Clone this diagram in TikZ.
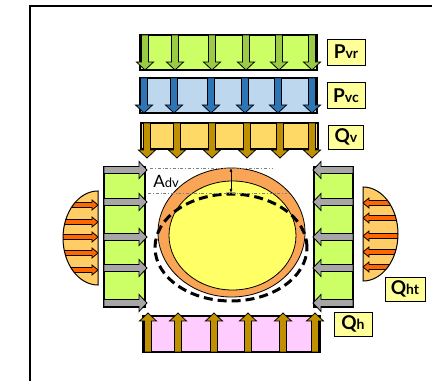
\documentclass[tikz,border=0pt]{standalone}
\usepackage{fontspec}
\setmainfont{Lato}
\usepackage{tikz}
\usetikzlibrary{arrows.meta}
\definecolor{BandGreen}{HTML}{CCFF66}
\definecolor{ArrowGreen}{HTML}{99CC44}
\definecolor{BandBlue}{HTML}{BDD7EE}
\definecolor{ArrowBlue}{HTML}{2E75B6}
\definecolor{BandGold}{HTML}{FFD966}
\definecolor{ArrowGold}{HTML}{BF9000}
\definecolor{BandPink}{HTML}{FFCCFF}
\definecolor{ArrowGray}{HTML}{A6A6A6}
\definecolor{LoadOrange}{HTML}{FFCC66}
\definecolor{ArrowOrange}{HTML}{FF6600}
\definecolor{RingOrange}{HTML}{FAA555}
\definecolor{CoreYellow}{HTML}{FFFF66}
\definecolor{LabelYellow}{HTML}{FFFF99}

\begin{document}
\begin{tikzpicture}[
    x=1pt, y=1pt,
    band/.style={draw=black, line width=1.2pt},
    lbl/.style={draw=black, fill=LabelYellow, line width=0.9pt, inner sep=0pt, minimum width=38pt, minimum height=26pt},
    pics/blockarrow/.style={code={
      \path[pic actions] (0,-3.5) -- (#1-8,-3.5) -- (#1-8,-8.5) -- (#1,0) -- (#1-8,8.5) -- (#1-8,3.5) -- (0,3.5) -- cycle;
    }},
    pics/smallarrow/.style={code={
      \path[pic actions] (0,-2.5) -- (#1-6,-2.5) -- (#1-6,-5) -- (#1,0) -- (#1-6,5) -- (#1-6,2.5) -- (0,2.5) -- cycle;
    }},
    barrow/.style={draw=black, line width=0.8pt, fill=#1}
  ]
  \useasboundingbox (0,0) rectangle (432,381);

  % Frame (open to the right and bottom)
  \draw[line width=1.3pt] (432,375) -- (30,375) -- (30,0);

  % Band 1: Pvr
  \filldraw[band, fill=BandGreen] (140,311) rectangle (317,346);
  \foreach \xa in {145,175,212,246,279,312}
    \pic[rotate=-90, barrow=ArrowGreen] at (\xa,346) {blockarrow=35};
  \node[lbl] (pvr) at (346,329) {{\fontsize{19}{19}\selectfont\bfseries P}{\fontsize{14}{14}\selectfont\bfseries vr}};

  % Band 2: Pvc
  \filldraw[band, fill=BandBlue] (140,268) rectangle (317,303);
  \foreach \xa in {144,174,211,245,278,312}
    \pic[rotate=-90, barrow=ArrowBlue] at (\xa,303) {blockarrow=35};
  \node[lbl] (pvc) at (346,285.5) {{\fontsize{19}{19}\selectfont\bfseries P}{\fontsize{14}{14}\selectfont\bfseries vc}};

  % Band 3: Qv
  \filldraw[band, fill=BandGold] (141,232) rectangle (318,258);
  \foreach \xa in {147,177,212,247,280,312}
    \pic[rotate=-90, barrow=ArrowGold] at (\xa,258) {blockarrow=35};
  \node[lbl, minimum width=35pt, minimum height=24pt] (qv) at (346,244) {{\fontsize{19}{19}\selectfont\bfseries Q}{\fontsize{14}{14}\selectfont\bfseries v}};

  % Side bands
  \filldraw[band, fill=BandGreen] (104,74) rectangle (145,214);
  \filldraw[band, fill=BandGreen] (314,74) rectangle (353,214);
  \foreach \ya in {211,179,144,113,78} {
    \pic[barrow=ArrowGray] at (104,\ya) {blockarrow=43};
    \pic[rotate=180, barrow=ArrowGray] at (353,\ya) {blockarrow=40};
  }

  % Left load distribution
  \fill[LoadOrange] (98,190) arc[start angle=90, end angle=270, x radius=35, y radius=47] -- cycle;
  \begin{scope}
    \clip (98,190) arc[start angle=90, end angle=270, x radius=35, y radius=47] -- cycle;
    \foreach \ya in {176,159,144,128,111}
      \pic[barrow=ArrowOrange] at (50,\ya) {smallarrow=48};
  \end{scope}
  \draw[line width=1pt] (98,190) arc[start angle=90, end angle=270, x radius=35, y radius=47] -- cycle;

  % Right load distribution
  \fill[LoadOrange] (363,194) arc[start angle=90, end angle=-90, x radius=35, y radius=47] -- cycle;
  \begin{scope}
    \clip (363,194) arc[start angle=90, end angle=-90, x radius=35, y radius=47] -- cycle;
    \foreach \ya in {178,163,145,129,114}
      \pic[rotate=180, barrow=ArrowOrange] at (411,\ya) {smallarrow=48};
  \end{scope}
  \draw[line width=1pt] (363,194) arc[start angle=90, end angle=-90, x radius=35, y radius=47] -- cycle;
  \node[lbl, minimum width=40pt, minimum height=24pt] (qht) at (405,92) {{\fontsize{19}{19}\selectfont\bfseries Q}{\fontsize{14}{14}\selectfont\bfseries ht}};

  % Bottom band: Qh
  \filldraw[band, fill=BandPink] (143,29) rectangle (320,65);
  \foreach \xa in {148,178,214,248,283,315}
    \pic[rotate=90, barrow=ArrowGold] at (\xa,29) {blockarrow=39};
  \node[lbl, minimum height=24pt] (qh) at (353,57) {{\fontsize{19}{19}\selectfont\bfseries Q}{\fontsize{14}{14}\selectfont\bfseries h}};

  % Lining and deformed shape
  \filldraw[draw=black, line width=0.8pt, fill=RingOrange] (231.5,148.5) ellipse[x radius=73.5, y radius=64.5];
  \filldraw[draw=black, line width=0.8pt, fill=CoreYellow] (232.5,145.5) ellipse[x radius=63.5, y radius=54.5];
  \draw[line width=3pt, dash pattern=on 9pt off 5pt] (231,133.5) ellipse[x radius=76, y radius=53.5];

  % Vertical displacement
  \draw[gray, line width=0.6pt, dash dot] (150,213) -- (273,213);
  \draw[gray, line width=0.6pt, dash dot] (148,188) -- (287,188);
  \coordinate (dtop) at (231,213);
  \coordinate (dbot) at (231,188);
  \draw[{Latex[length=4pt, width=3pt]}-{Latex[length=4pt, width=3pt]}, line width=0.7pt] (dtop) -- (dbot);
  \node (adv) at (166,200) {{\fontsize{17}{17}\selectfont A}{\fontsize{13}{13}\selectfont dv}};
\end{tikzpicture}
\end{document}
